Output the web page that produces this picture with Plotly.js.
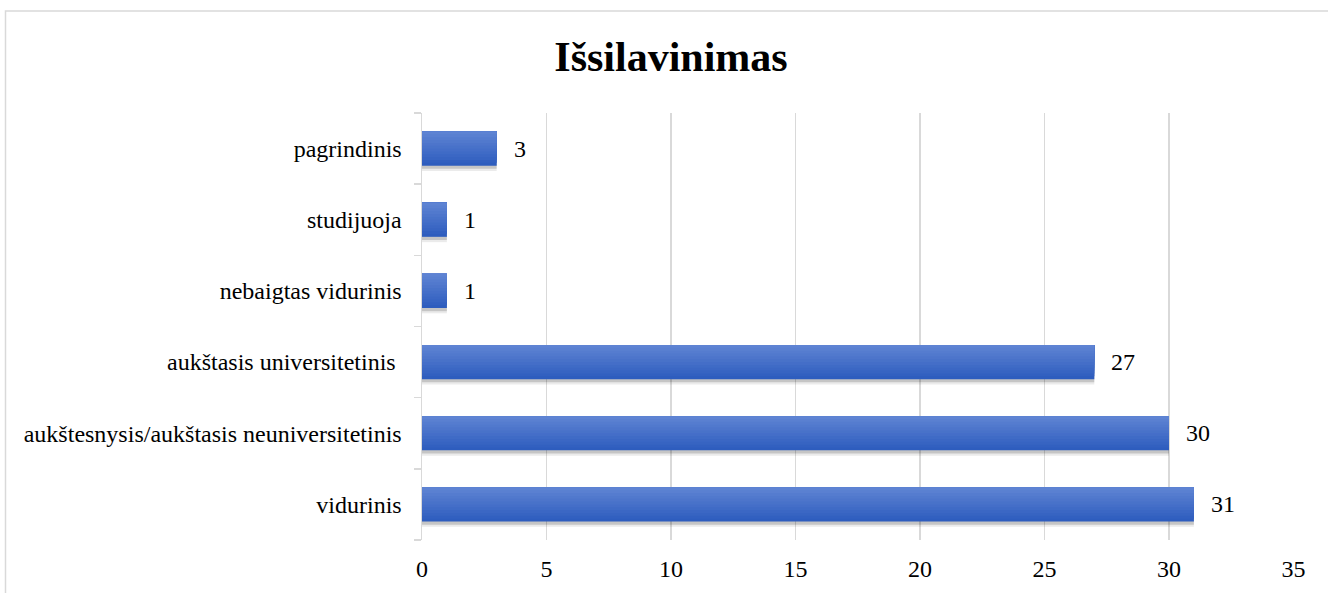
<!DOCTYPE html>
<html>
<head>
<meta charset="utf-8">
<script src="https://cdn.plot.ly/plotly-3.0.1.min.js"></script>
<style>
html,body{margin:0;padding:0;background:#fff;}
#chart{width:1328px;height:593px;}
</style>
</head>
<body>
<div id="chart"></div>
<script>
const categories = [
  "vidurinis",
  "aukštesnysis/aukštasis neuniversitetinis",
  "aukštasis universitetinis\u00a0",
  "nebaigtas vidurinis",
  "studijuoja",
  "pagrindinis"
];
const counts = [31, 30, 27, 1, 1, 3];
const xTickValues = [0, 5, 10, 15, 20, 25, 30, 35];
const chartTitle = "Išsilavinimas";

const serif = "Liberation Serif, Times New Roman, serif";
const BAR_W = 0.48;
const STRIPS = 12;
const darkRGB = [46, 93, 190];
const lightRGB = [94, 131, 211];

const traces = [];
// soft shadow below the bars
traces.push({
  type: "bar", orientation: "h", y: categories, x: counts,
  width: BAR_W, offset: -BAR_W / 2 - 0.075,
  marker: {color: "rgba(0,0,0,0.08)", line: {width: 0}},
  hoverinfo: "none"
});
traces.push({
  type: "bar", orientation: "h", y: categories, x: counts,
  width: BAR_W, offset: -BAR_W / 2 - 0.045,
  marker: {color: "rgba(0,0,0,0.16)", line: {width: 0}},
  hoverinfo: "none"
});
// vertical gradient: each layer spans from its start up to the bar top
for (let k = 0; k < STRIPS; k++) {
  const t = k / (STRIPS - 1);
  const c = darkRGB.map((d, j) => Math.round(d + (lightRGB[j] - d) * t));
  const start = -BAR_W / 2 + k * BAR_W / STRIPS;
  traces.push({
    type: "bar", orientation: "h", y: categories, x: counts,
    width: BAR_W / 2 - start,
    offset: start,
    marker: {color: "rgb(" + c.join(",") + ")", line: {width: 0}},
    hoverinfo: "none"
  });
}

const annotations = categories.map((c, i) => ({
  x: counts[i], y: c, xref: "x", yref: "y",
  text: String(counts[i]), showarrow: false,
  xanchor: "left", yanchor: "middle", xshift: 15, yshift: 0,
  font: {family: serif, size: 24, color: "#000"}
}));

const layout = {
  width: 1328, height: 593,
  margin: {l: 422, r: 34, t: 113, b: 53},
  paper_bgcolor: "#fff", plot_bgcolor: "#fff",
  showlegend: false, barmode: "overlay",
  title: {text: "<b>" + chartTitle + "</b>", x: 671/1328, xref: "container", xanchor: "center",
    y: 1 - 71/593, yref: "container", yanchor: "bottom",
    font: {family: serif, size: 42, color: "#000"}},
  xaxis: {
    range: [0, 35.02], tickvals: xTickValues, ticktext: xTickValues.map(String),
    showgrid: true, gridcolor: "#d9d9d9", gridwidth: 1.5,
    zeroline: false, showline: false, ticks: "",
    tickfont: {family: serif, size: 24, color: "#000"},
    ticklabelstandoff: 12, fixedrange: true
  },
  yaxis: {
    type: "category", showgrid: false, zeroline: false,
    showline: true, linecolor: "#d9d9d9", linewidth: 1.5,
    ticks: "outside", tickson: "boundaries", ticklen: 7, tickcolor: "#d9d9d9", tickwidth: 1.5,
    tickfont: {family: serif, size: 24, color: "#000"},
    ticklabelstandoff: 14, fixedrange: true
  },
  annotations: annotations,
  shapes: [{
    type: "rect", xref: "paper", yref: "paper",
    x0: (5.5 - 422) / 872, x1: 1.2, y0: -0.3, y1: (540 - 11) / 427,
    line: {color: "#d9d9d9", width: 1.5}, fillcolor: "rgba(0,0,0,0)", layer: "below"
  }]
};

Plotly.newPlot("chart", traces, layout, {displayModeBar: false, staticPlot: true});
</script>
</body>
</html>
